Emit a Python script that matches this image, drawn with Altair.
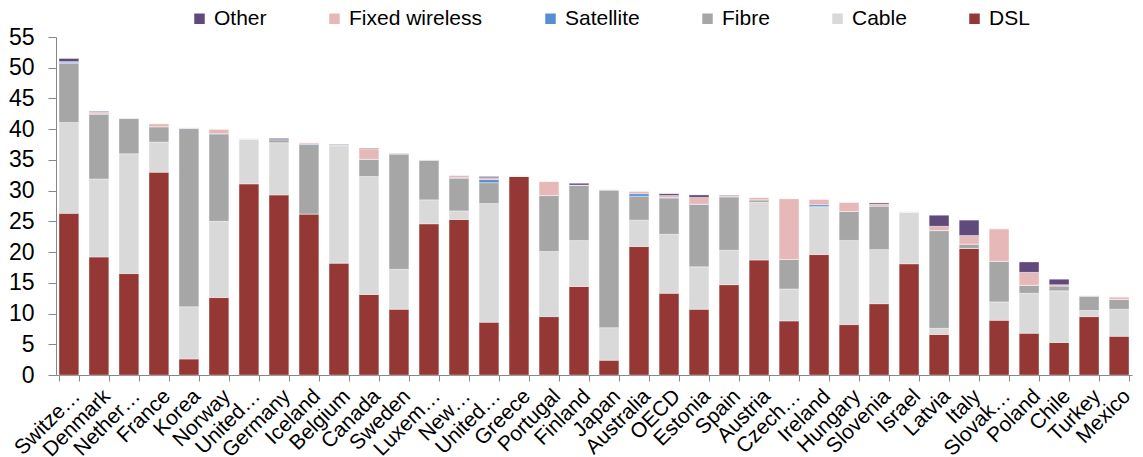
import json
import altair as alt
import pandas as pd

countries = ["Switzerland", "Denmark", "Netherlands", "France", "Korea", "Norway",
             "United Kingdom", "Germany", "Iceland", "Belgium", "Canada", "Sweden",
             "Luxembourg", "New Zealand", "United States", "Greece", "Portugal", "Finland",
             "Japan", "Australia", "OECD", "Estonia", "Spain", "Austria",
             "Czech Republic", "Ireland", "Hungary", "Slovenia", "Israel", "Latvia",
             "Italy", "Slovak Republic", "Poland", "Chile", "Turkey", "Mexico"]
tick_labels = ["Switze…", "Denmark", "Nether…", "France", "Korea", "Norway",
               "United…", "Germany", "Iceland", "Belgium", "Canada", "Sweden",
               "Luxem…", "New…", "United…", "Greece", "Portugal", "Finland",
               "Japan", "Australia", "OECD", "Estonia", "Spain", "Austria",
               "Czech…", "Ireland", "Hungary", "Slovenia", "Israel", "Latvia",
               "Italy", "Slovak…", "Poland", "Chile", "Turkey", "Mexico"]

dsl = [26.3, 19.2, 16.5, 33.0, 2.6, 12.6, 31.1, 29.3, 26.2, 18.2, 13.1, 10.7,
       24.6, 25.3, 8.6, 32.3, 9.5, 14.4, 2.4, 20.9, 13.3, 10.7, 14.7, 18.7,
       8.8, 19.6, 8.2, 11.6, 18.1, 6.6, 20.6, 8.9, 6.8, 5.3, 9.5, 6.3]
cable = [14.8, 12.7, 19.5, 4.9, 8.5, 12.4, 7.3, 8.5, 0.0, 19.1, 19.2, 6.5,
         3.9, 1.4, 19.3, 0.0, 10.6, 7.5, 5.3, 4.3, 9.6, 6.9, 5.6, 9.4,
         5.2, 7.8, 13.7, 8.8, 8.4, 1.0, 0.0, 3.0, 6.5, 8.4, 1.0, 4.4]
fibre = [9.6, 10.5, 5.8, 2.5, 29.0, 14.2, 0.0, 0.5, 11.3, 0.1, 2.8, 18.7,
         6.5, 5.3, 3.4, 0.0, 9.1, 9.0, 22.4, 3.9, 5.9, 10.2, 8.7, 0.4,
         4.8, 0.0, 4.7, 7.1, 0.0, 15.9, 0.7, 6.6, 1.3, 0.8, 2.3, 1.6]
satellite = [0.2, 0.1, 0.0, 0.0, 0.1, 0.1, 0.0, 0.0, 0.1, 0.0, 0.0, 0.0,
             0.0, 0.1, 0.5, 0.0, 0.0, 0.0, 0.0, 0.4, 0.1, 0.0, 0.0, 0.0,
             0.0, 0.3, 0.0, 0.0, 0.0, 0.0, 0.0, 0.0, 0.0, 0.0, 0.1, 0.0]
fixed_wireless = [0.1, 0.3, 0.0, 0.5, 0.0, 0.7, 0.1, 0.0, 0.2, 0.0, 1.7, 0.0,
                  0.0, 0.4, 0.3, 0.1, 2.3, 0.0, 0.1, 0.4, 0.3, 1.1, 0.2, 0.4,
                  9.9, 0.9, 1.5, 0.3, 0.1, 0.7, 1.4, 5.3, 2.1, 0.2, 0.0, 0.4]
other = [0.5, 0.1, 0.0, 0.0, 0.0, 0.0, 0.0, 0.2, 0.0, 0.1, 0.1, 0.1,
         0.0, 0.0, 0.2, 0.0, 0.0, 0.3, 0.0, 0.0, 0.3, 0.4, 0.1, 0.0,
         0.0, 0.0, 0.0, 0.2, 0.0, 1.8, 2.5, 0.0, 1.7, 0.9, 0.0, 0.0]

techs = ["DSL", "Cable", "Fibre", "Satellite", "Fixed wireless", "Other"]
series = [dsl, cable, fibre, satellite, fixed_wireless, other]
legend_order = ["Other", "Fixed wireless", "Satellite", "Fibre", "Cable", "DSL"]
legend_colors = ["#604A7B", "#E6B9B8", "#558ED5", "#A6A6A6", "#D9D9D9", "#953735"]

rows = []
for i, c in enumerate(countries):
    for j, t in enumerate(techs):
        rows.append({"country": c, "tech": t, "value": series[j][i], "ord": j})
df = pd.DataFrame(rows)

label_expr = "{}[indexof({}, datum.value)]".format(
    json.dumps(tick_labels, ensure_ascii=False), json.dumps(countries))

FONT = "Liberation Sans"

chart = alt.Chart(df).mark_bar(stroke="white", strokeWidth=0.6, strokeOpacity=0.6).encode(
    x=alt.X("country:N", sort=countries,
            scale=alt.Scale(paddingInner=0.34, paddingOuter=0.1),
            axis=alt.Axis(title=None, labelAngle=-45, labelFontSize=21, labelFont=FONT,
                          labelColor="black", labelExpr=label_expr, tickBand="extent",
                          tickSize=6, domainColor="#868686", tickColor="#868686",
                          labelPadding=4, labelOverlap=False, labelLimit=200)),
    y=alt.Y("value:Q", stack="zero",
            scale=alt.Scale(domain=[0, 55], nice=False),
            axis=alt.Axis(title=None, values=list(range(0, 56, 5)), grid=False,
                          tickSize=8, labelPadding=14, labelFontSize=23, labelFont=FONT,
                          labelColor="black", domainColor="#868686", tickColor="#868686")),
    color=alt.Color("tech:N", scale=alt.Scale(domain=legend_order, range=legend_colors),
                    legend=alt.Legend(title=None, orient="none", direction="horizontal",
                                      legendX=133, legendY=-29, symbolType="square",
                                      symbolSize=110, symbolStrokeWidth=0,
                                      labelFontSize=21, labelFont=FONT, labelColor="black",
                                      columnPadding=57, labelOffset=4)),
    order=alt.Order("ord:Q", sort="ascending"),
).properties(
    width=1076, height=338, padding={"left": 0, "top": 0, "right": 0, "bottom": 0}
).configure_view(stroke=None)

chart.save("out.html", embed_options={"renderer": "svg", "actions": False})
